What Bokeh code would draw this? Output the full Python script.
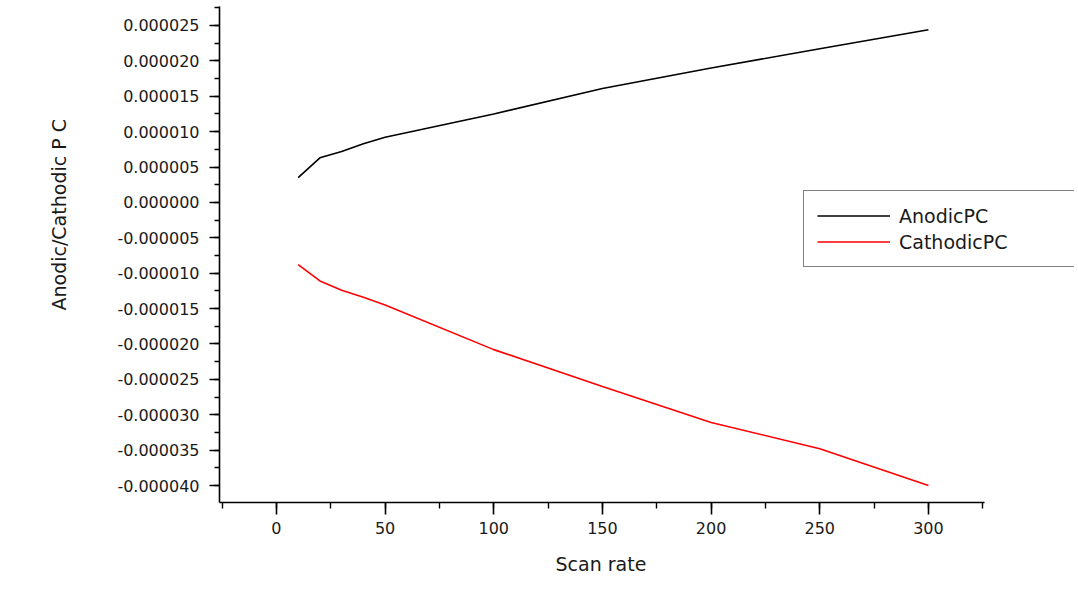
from bokeh.plotting import figure
from bokeh.models import (Range1d, SingleIntervalTicker, CustomJSTickFormatter,
                          Legend, LegendItem, Title)
from bokeh.embed import file_html
from bokeh.resources import INLINE

# Data
scan_rate = [10, 20, 30, 40, 50, 100, 150, 200, 250, 300]
anodic_pc = [3.5e-6, 6.3e-6, 7.2e-6, 8.3e-6, 9.2e-6, 12.5e-6, 16.1e-6, 19.0e-6, 21.7e-6, 24.4e-6]
cathodic_pc = [-8.8e-6, -11.1e-6, -12.4e-6, -13.4e-6, -14.5e-6, -20.8e-6, -26.0e-6, -31.1e-6, -34.8e-6, -40.0e-6]

x_label = "Scan rate"
y_label = "Anodic/Cathodic P C"
series_names = ["AnodicPC", "CathodicPC"]

FONT = "DejaVu Sans"

X_AXIS_START, X_AXIS_END = -26.2, 325.8

p = figure(width=1076, height=590, output_backend="svg", toolbar_location=None,
           x_range=Range1d(X_AXIS_START, 367.2), y_range=Range1d(-4.24e-5, 2.768e-5),
           min_border_left=219, min_border_right=2, min_border_top=6,
           min_border_bottom=88)
p.outline_line_color = None
p.xgrid.visible = False
p.ygrid.visible = False
p.background_fill_color = "white"
p.border_fill_color = "white"

r1 = p.line(scan_rate, anodic_pc, line_color="#000000", line_width=1.6)
r2 = p.line(scan_rate, cathodic_pc, line_color="#ff0000", line_width=1.6)

xa = p.xaxis[0]
xa.ticker = SingleIntervalTicker(interval=50, num_minor_ticks=2)
xa.bounds = (X_AXIS_START, X_AXIS_END)
ya = p.yaxis[0]
ya.ticker = SingleIntervalTicker(interval=5e-6, num_minor_ticks=2)
ya.formatter = CustomJSTickFormatter(code="""
    if (Math.abs(tick) < 1e-12) { return "0.000000"; }
    return tick.toFixed(6);
""")

for ax in (xa, ya):
    ax.axis_line_color = "black"
    ax.axis_line_width = 1.6
    ax.major_tick_line_color = "black"
    ax.major_tick_line_width = 1.6
    ax.minor_tick_line_color = "black"
    ax.minor_tick_line_width = 1.4
    ax.major_tick_in = 0
    ax.minor_tick_in = 0
    ax.major_label_text_font = FONT
    ax.major_label_text_font_size = "16px"
    ax.major_label_text_color = "#1a1a1a"

xa.major_tick_out = 12
xa.minor_tick_out = 6
xa.major_label_standoff = 7

ya.major_tick_out = 10
ya.minor_tick_out = 5
ya.major_label_standoff = 10

ytitle = Title(text=y_label, align="left", offset=192, standoff=90,
               text_font=FONT, text_font_size="19px", text_font_style="normal",
               text_color="#1a1a1a")
p.add_layout(ytitle, "left")

xtitle = Title(text=x_label, align="left", offset=336, standoff=28,
               text_font=FONT, text_font_size="19px", text_font_style="normal",
               text_color="#1a1a1a")
p.add_layout(xtitle, "below")

legend = Legend(items=[LegendItem(label=series_names[0], renderers=[r1]),
                       LegendItem(label=series_names[1], renderers=[r2])],
                location=(584, 235))
legend.border_line_color = "black"
legend.border_line_width = 1.6
legend.background_fill_color = "white"
legend.background_fill_alpha = 1.0
legend.padding = 13
legend.margin = 0
legend.spacing = 3
legend.glyph_width = 73
legend.glyph_height = 23
legend.label_height = 23
legend.label_width = 162
legend.label_standoff = 9
legend.label_text_font = FONT
legend.label_text_font_size = "19px"
legend.label_text_color = "#1a1a1a"
p.add_layout(legend, "center")

open("out.html", "w").write(file_html(p, INLINE))
